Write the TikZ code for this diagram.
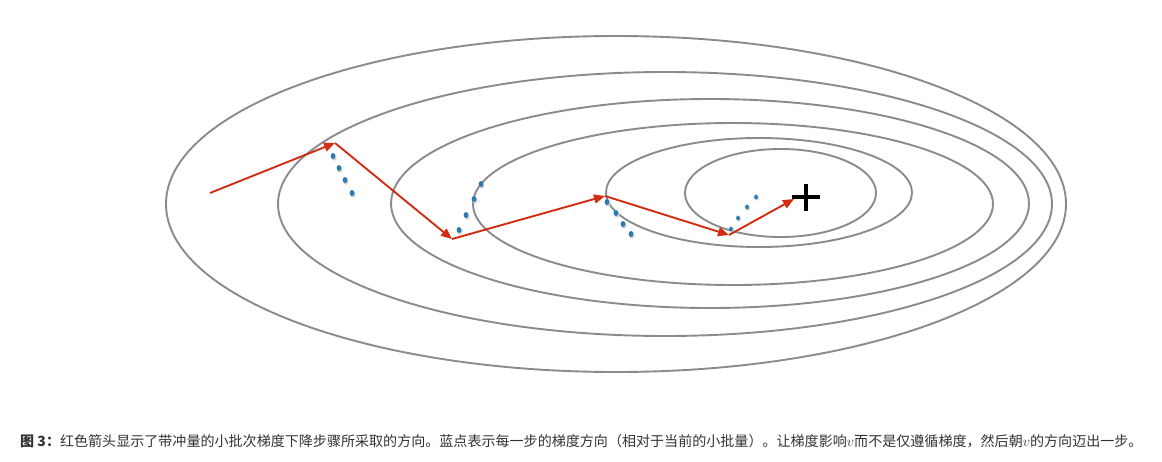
\documentclass[tikz,border=0pt]{standalone}
\usepackage{fontspec}
\newfontfamily\cjk{Noto Sans CJK SC}
\usetikzlibrary{arrows.meta}
\definecolor{contour}{RGB}{138,139,143}
\definecolor{momred}{RGB}{210,45,18}
\definecolor{gradblue}{RGB}{42,122,182}
\definecolor{captext}{RGB}{51,51,51}
\tikzset{
  contourline/.style={draw=contour, line width=1.9pt},
  redarrow/.style={draw=momred, line width=1.9pt, -{Triangle[length=11pt,width=9pt]}},
  bluedot/.style={fill=gradblue},
  dotshadow/.style={fill=black!18},
  crossline/.style={draw=black, line width=3.3pt},
}
\newcommand{\gdot}[2]{%
  \fill[dotshadow] (#1+1,#2+1.5) ellipse [x radius=2.6pt, y radius=3.2pt];
  \fill[bluedot] (#1,#2) ellipse [x radius=2.4pt, y radius=3pt];}
\newcommand{\gdotsmall}[2]{%
  \fill[dotshadow] (#1+1,#2+1.2) ellipse [x radius=2pt, y radius=2.5pt];
  \fill[bluedot] (#1,#2) ellipse [x radius=1.9pt, y radius=2.4pt];}
\begin{document}
\begin{tikzpicture}[x=1pt,y=-1pt]
\useasboundingbox[fill=white] (0,0) rectangle (1162,461);
% contour ellipses
\draw[contourline] (616,204) ellipse [x radius=450pt, y radius=168pt];
\draw[contourline] (665,204) ellipse [x radius=387pt, y radius=132pt];
\draw[contourline] (710,203.5) ellipse [x radius=319pt, y radius=104.5pt];
\draw[contourline] (733,204) ellipse [x radius=260pt, y radius=81pt];
\draw[contourline] (759,192.5) ellipse [x radius=153pt, y radius=54.5pt];
\draw[contourline] (780.5,193) ellipse [x radius=95.5pt, y radius=44pt];
% gradient dots
\gdot{333}{156}\gdot{339}{168}\gdot{345}{180}\gdot{352}{193}
\gdot{481}{184}\gdot{474}{199}\gdot{466}{215}\gdot{459}{230}
\gdot{607}{202}\gdot{616}{213}\gdot{623}{224}\gdot{631}{234}
\gdotsmall{731}{229}\gdotsmall{738}{218}\gdotsmall{747}{207}\gdotsmall{756}{197}
% momentum steps
\coordinate (p0) at (210,193);
\coordinate (p1) at (335,143);
\coordinate (p2) at (452,239);
\coordinate (p3) at (605,196);
\coordinate (p4) at (729,235);
\coordinate (p5) at (794,199);
\draw[redarrow] (p0) -- (p1);
\draw[redarrow] (p1) -- (p2);
\draw[redarrow] (p2) -- (p3);
\draw[redarrow] (p3) -- (p4);
\draw[redarrow] (p4) -- (p5);
% optimum
\coordinate (opt) at (806,197);
\draw[crossline] ([xshift=-14pt]opt) -- ([xshift=14pt]opt);
\draw[crossline] ([yshift=-13.5pt]opt) -- ([yshift=13.5pt]opt);
% caption
\node[anchor=west, inner sep=0pt, text=captext, font=\cjk\fontsize{14.05}{16}\selectfont] (caption) at (20,441)
  {{\bfseries 图 3：}红色箭头显示了带冲量的小批次梯度下降步骤所采取的方向。蓝点表示每一步的梯度方向（相对于当前的小批量）。让梯度影响$v$而不是仅遵循梯度，然后朝$v$的方向迈出一步。};
\end{tikzpicture}
\end{document}
